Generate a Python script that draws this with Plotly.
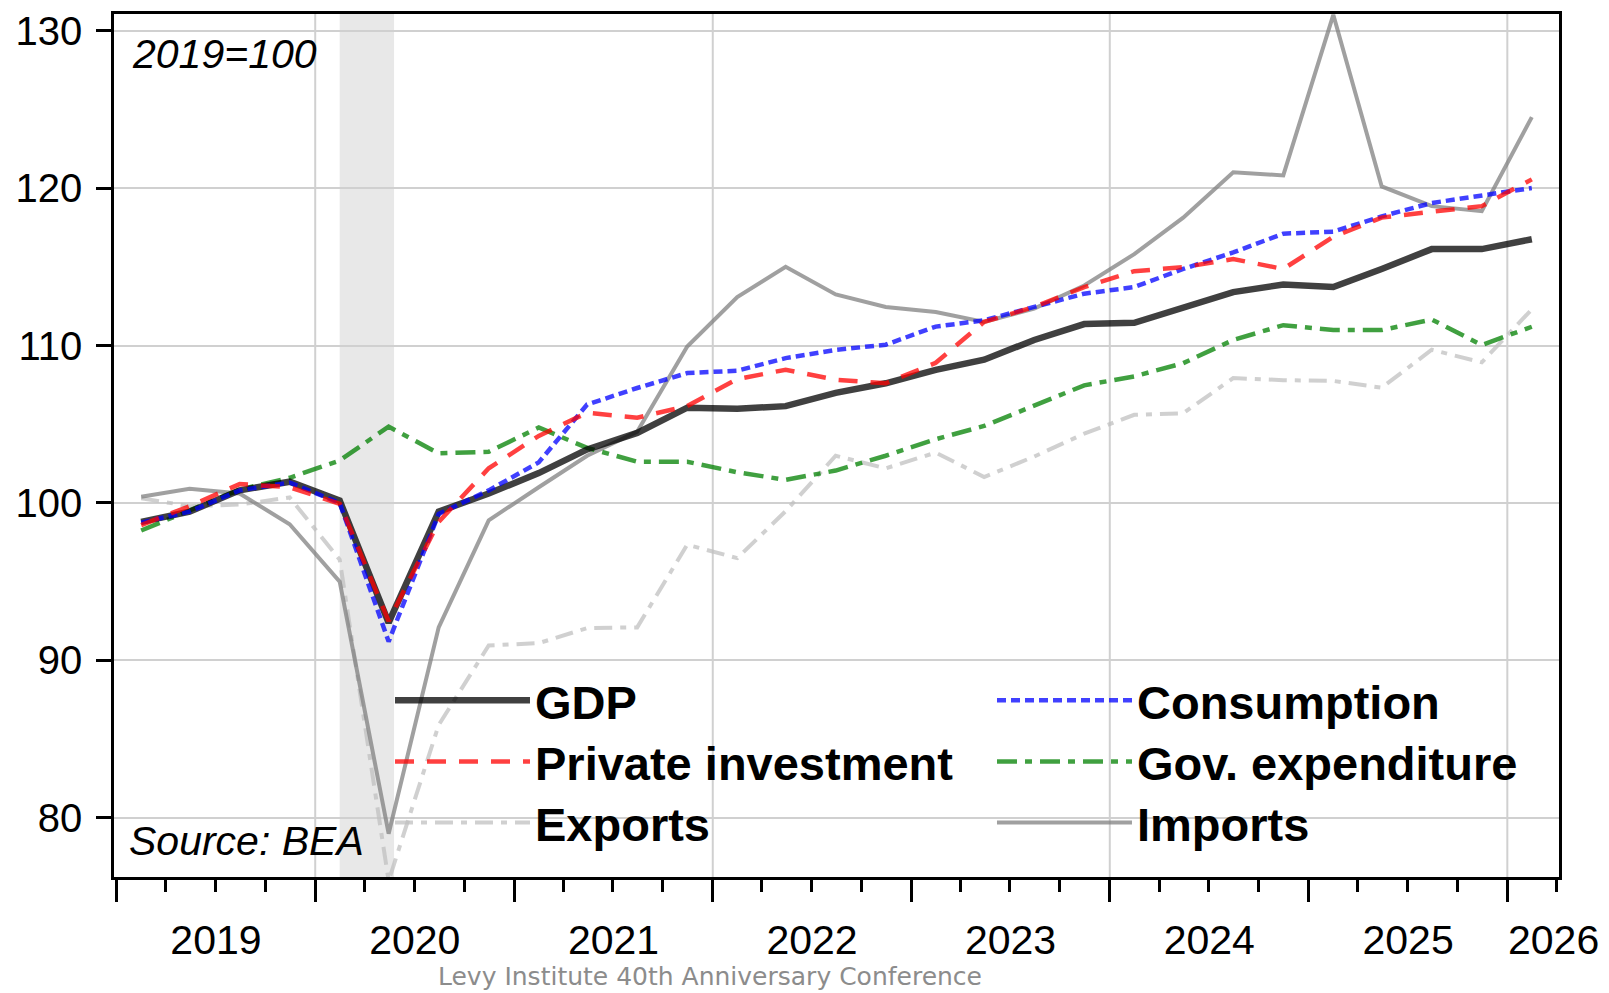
import plotly.graph_objects as go

# ---------------- data (index, 2019 = 100), quarterly 2019Q1 .. 2026Q1 ----------------
quarters = ["2019-02-15", "2019-05-15", "2019-08-15", "2019-11-15",
            "2020-02-15", "2020-05-15", "2020-08-15", "2020-11-15",
            "2021-02-15", "2021-05-15", "2021-08-15", "2021-11-15",
            "2022-02-15", "2022-05-15", "2022-08-15", "2022-11-15",
            "2023-02-15", "2023-05-15", "2023-08-15", "2023-11-15",
            "2024-02-15", "2024-05-15", "2024-08-15", "2024-11-15",
            "2025-02-15", "2025-05-15", "2025-08-15", "2025-11-15",
            "2026-02-15"]

gdp = [98.8, 99.45, 100.8, 101.35, 100.15, 92.4, 99.45, 100.6,
       101.9, 103.4, 104.45, 106.05, 105.98, 106.15, 106.99, 107.6,
       108.45, 109.1, 110.35, 111.36, 111.44, 112.45, 113.39, 113.87,
       113.71, 114.86, 116.12, 116.12, 116.75]

consumption = [98.75, 99.45, 100.8, 101.3, 100.0, 91.2, 99.3, 100.8,
               102.58, 106.25, 107.3, 108.25, 108.4, 109.2, 109.72, 110.05,
               111.2, 111.6, 112.45, 113.29, 113.71, 114.86, 115.91, 117.1,
               117.23, 118.2, 119.05, 119.5, 120.0]

private_investment = [98.6, 99.8, 101.2, 101.0, 99.95, 92.5, 98.8, 102.2,
                      104.26, 105.73, 105.42, 106.15, 107.87, 108.46, 107.83, 107.6,
                      108.9, 111.5, 112.45, 113.71, 114.72, 114.97, 115.49, 114.86,
                      116.9, 118.12, 118.49, 118.85, 120.55]

gov_expenditure = [98.25, 99.5, 100.85, 101.6, 102.7, 104.85, 103.15, 103.25,
                   104.79, 103.5, 102.62, 102.62, 101.95, 101.47, 102.06, 103.0,
                   104.05, 104.89, 106.15, 107.47, 108.04, 108.88, 110.35, 111.29,
                   110.98, 110.98, 111.65, 110.03, 111.19]

exports = [100.3, 99.8, 99.9, 100.35, 96.4, 76.0, 85.9, 90.95,
           91.1, 92.06, 92.1, 97.35, 96.5, 99.48, 103.0, 102.2,
           103.2, 101.65, 102.95, 104.4, 105.6, 105.7, 107.93, 107.8,
           107.75, 107.32, 109.73, 108.93, 112.3]

imports = [100.4, 100.9, 100.6, 98.65, 95.0, 79.0, 92.1, 98.9,
           101.0, 103.0, 104.53, 109.93, 113.08, 115.0, 113.24, 112.45,
           112.13, 111.5, 112.34, 113.81, 115.8, 118.12, 121.0, 120.8,
           131.0, 120.1, 118.85, 118.53, 124.5]

# year labels: 2019-2025 are centred in their year; 2026 sits in the partial year at the end
year_labels = ["2019", "2020", "2021", "2022", "2023", "2024", "2025", "2026"]
last_label_date = "2026-03-26"

recession = ["2020-02-15", "2020-05-25"]
vgrid_years = ["2020-01-01", "2022-01-01", "2024-01-01", "2026-01-01"]
x_range = ["2018-12-27", "2026-04-06"]
y_range = [76.25, 131.05]

FONT = "Liberation Sans, Arial, sans-serif"

# legend layout: two columns, three rows (one legend box per entry)
legend_cols = [0.191, 0.6076]
legend_rows = [0.2477, 0.1768, 0.106]

fig = go.Figure()

def add(name, y, color, width, dash, col, row):
    lg = "legend" if (col, row) == (0, 0) else f"legend{1 + col * 3 + row}"
    fig.add_trace(go.Scatter(
        x=quarters, y=y, name=name, mode="lines",
        line=dict(color=color, width=width, dash=dash),
        legend=lg, hoverinfo="x+y+name"))

add("Exports", exports, "rgba(192,192,192,0.75)", 4, "18px,8px,6px,8px", 0, 2)
add("Imports", imports, "rgba(128,128,128,0.75)", 4, "solid", 1, 2)
add("Gov. expenditure", gov_expenditure, "rgba(0,128,0,0.75)", 4.5, "20px,8px,7px,8px", 1, 1)
add("GDP", gdp, "rgba(0,0,0,0.75)", 6.5, "solid", 0, 0)
add("Consumption", consumption, "rgba(0,0,255,0.75)", 4.5, "9px,5px", 1, 0)
add("Private investment", private_investment, "rgba(255,0,0,0.75)", 4.5, "19px,13px", 0, 1)

# recession shading and 2-year vertical gridlines
fig.add_vrect(x0=recession[0], x1=recession[1], fillcolor="#e8e8e8",
              line_width=0, layer="below")
for d in vgrid_years:
    fig.add_vline(x=d, line=dict(color="#d0d0d0", width=2), layer="below")

fig.update_xaxes(
    type="date", range=x_range,
    tick0="2019-01-01", dtick="M12", ticklabelmode="period",
    tickformat="%Y", ticks="outside", ticklen=22, tickwidth=2.5, tickcolor="black",
    ticklabelstandoff=3,
    minor=dict(dtick="M3", tick0="2019-01-01", ticks="outside", ticklen=12,
               tickwidth=2.5, tickcolor="black", showgrid=False),
    showgrid=False, zeroline=False,
    showline=True, linecolor="black", linewidth=2.5, mirror=True,
    tickfont=dict(family=FONT, size=41, color="black"),
)
fig.update_yaxes(
    range=y_range, tick0=80, dtick=10,
    ticks="outside", ticklen=15, tickwidth=2.5, tickcolor="black",
    ticklabelstandoff=6, ticklabeloverflow="allow",
    showgrid=True, gridcolor="#d0d0d0", gridwidth=2, zeroline=False,
    showline=True, linecolor="black", linewidth=2.5, mirror=True,
    tickfont=dict(family=FONT, size=40, color="black"),
)

legend_common = dict(
    xanchor="left", yanchor="top", bgcolor="rgba(0,0,0,0)", borderwidth=0,
    font=dict(family=FONT, size=47, color="black", weight="bold"),
    itemwidth=135, traceorder="normal", tracegroupgap=0,
)
legends = {}
for c, lx in enumerate(legend_cols):
    for r, ly in enumerate(legend_rows):
        key = "legend" if (c, r) == (0, 0) else f"legend{1 + c * 3 + r}"
        legends[key] = dict(x=lx, y=ly, **legend_common)

fig.update_layout(
    width=1601, height=985,
    margin=dict(l=106, r=50, t=1, b=116),
    paper_bgcolor="white", plot_bgcolor="white",
    showlegend=True,
    annotations=[
        dict(text="2019=100", xref="paper", yref="paper", x=0.011, y=0.9535,
             xanchor="left", yanchor="middle", showarrow=False,
             font=dict(family=FONT, size=41, color="black", style="italic")),
        dict(text="Source: BEA", xref="paper", yref="paper", x=0.009, y=0.042,
             xanchor="left", yanchor="middle", showarrow=False,
             font=dict(family=FONT, size=41, color="black", style="italic")),
        dict(text=year_labels[-1], xref="x", yref="paper", x=last_label_date, y=-0.073,
             xanchor="center", yanchor="middle", showarrow=False,
             font=dict(family=FONT, size=41, color="black")),
        dict(text="Levy Institute 40th Anniversary Conference", xref="paper", yref="paper",
             x=0.4125, y=-0.1155, xanchor="center", yanchor="middle", showarrow=False,
             font=dict(family="DejaVu Sans, sans-serif", size=25, color="#8c8c8c")),
    ],
    **legends,
)

fig.write_html("out.html")
